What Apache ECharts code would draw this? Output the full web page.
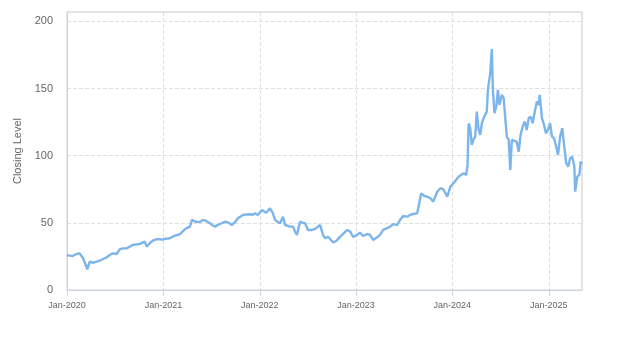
<!DOCTYPE html>
<html>
<head>
<meta charset="utf-8">
<title>Closing Level</title>
<script src="https://cdn.jsdelivr.net/npm/echarts@6/dist/echarts.min.js"></script>
<style>
  html, body { margin: 0; padding: 0; background: #ffffff; }
  #chart { width: 623px; height: 350px; }
</style>
</head>
<body>
<div id="chart"></div>
<script>
// Trading dates and closing levels
const dates = [
  '2020-01-01','2020-01-11','2020-01-22','2020-02-06','2020-02-18','2020-03-02','2020-03-12','2020-03-18',
  '2020-03-27','2020-04-07','2020-04-22','2020-05-04','2020-05-15','2020-05-31','2020-06-11','2020-06-22',
  '2020-07-07','2020-07-19','2020-07-30','2020-08-14','2020-08-26','2020-09-06','2020-09-21','2020-10-03',
  '2020-10-14','2020-10-22','2020-10-29','2020-11-10','2020-11-21','2020-12-06','2020-12-18','2020-12-29',
  '2021-01-10','2021-01-25','2021-02-13','2021-03-04','2021-03-23','2021-04-03','2021-04-11','2021-04-19',
  '2021-04-30','2021-05-07','2021-05-19','2021-05-30','2021-06-11','2021-06-26','2021-07-07','2021-07-15',
  '2021-07-26','2021-08-10','2021-08-22','2021-09-02','2021-09-17','2021-09-29','2021-10-10','2021-10-29',
  '2021-11-13','2021-11-25','2021-12-06','2021-12-14','2021-12-25',
  '2022-01-09','2022-01-25','2022-02-09','2022-02-20','2022-02-28','2022-03-11','2022-03-19','2022-03-30',
  '2022-04-07','2022-04-26','2022-05-07','2022-05-15','2022-05-22','2022-06-03','2022-06-14','2022-06-22',
  '2022-07-03','2022-07-18','2022-07-30','2022-08-18','2022-08-29','2022-09-06','2022-09-17','2022-10-06',
  '2022-10-18','2022-11-02','2022-11-17','2022-11-28','2022-12-10','2022-12-21',
  '2023-01-05','2023-01-16','2023-01-28','2023-02-12','2023-02-23','2023-03-07','2023-03-22','2023-04-02',
  '2023-04-14','2023-04-29','2023-05-10','2023-05-22','2023-06-06','2023-06-17','2023-06-29','2023-07-14',
  '2023-07-25','2023-08-06','2023-08-21','2023-08-29','2023-09-05','2023-09-17','2023-09-28','2023-10-10',
  '2023-10-21','2023-11-05','2023-11-17','2023-11-28','2023-12-13','2023-12-25',
  '2024-01-08','2024-01-25','2024-02-13','2024-02-23','2024-02-28','2024-03-03','2024-03-09','2024-03-15',
  '2024-03-21','2024-03-28','2024-04-03','2024-04-10','2024-04-16','2024-04-22','2024-04-29','2024-05-05',
  '2024-05-11','2024-05-15','2024-05-21','2024-05-24','2024-05-30','2024-06-03','2024-06-09','2024-06-16',
  '2024-06-22','2024-06-28','2024-07-07','2024-07-14','2024-07-20','2024-07-26','2024-08-02','2024-08-08',
  '2024-08-14','2024-08-20','2024-09-01','2024-09-09','2024-09-16','2024-09-24','2024-10-02','2024-10-09',
  '2024-10-17','2024-10-25','2024-11-01','2024-11-09','2024-11-17','2024-11-24','2024-11-28','2024-12-06',
  '2024-12-14','2024-12-21','2024-12-29',
  '2025-01-06','2025-01-13','2025-01-21','2025-01-29','2025-02-05','2025-02-13','2025-02-21','2025-02-28',
  '2025-03-08','2025-03-16','2025-03-23','2025-03-31','2025-04-08','2025-04-11','2025-04-19','2025-04-27',
  '2025-05-02','2025-05-07'
];
const closes = [
  26.0,25.6,25.3,26.8,27.3,23.6,18.6,15.4,
  21.1,20.3,21.1,21.8,22.9,24.4,26.0,27.3,
  26.8,30.3,31.0,31.0,32.3,33.5,34.0,34.3,
  35.3,36.0,32.3,34.8,36.7,37.8,37.8,37.5,
  38.2,38.5,40.5,41.5,45.2,46.5,47.2,52.2,
  51.0,49.7,50.5,52.2,51.5,49.7,48.0,47.2,
  48.5,49.7,50.8,50.4,48.4,50.5,53.4,55.9,
  56.2,56.4,56.0,57.1,55.9,
  59.6,57.5,60.8,57.0,52.2,50.5,49.7,54.6,
  48.4,47.2,47.2,43.5,41.0,51.0,50.0,49.7,
  44.7,44.7,45.5,48.4,41.0,38.5,39.7,35.5,
  36.5,39.7,42.5,44.7,43.5,39.5,
  41.0,42.7,40.2,41.7,41.0,37.3,39.2,41.0,
  44.7,46.0,47.2,49.0,48.4,52.2,55.1,54.6,
  55.9,56.6,57.1,64.6,72.0,70.0,69.5,68.3,
  65.8,73.2,75.8,75.0,69.5,77.0,
  80.0,84.4,87.0,85.7,93.0,124.0,120.7,108.0,
  112.0,114.0,132.9,119.0,115.5,124.0,128.0,129.0,
  133.0,149.0,149.0,161.7,179.4,149.0,131.7,136.6,
  149.0,137.9,145.3,142.8,128.0,114.2,111.8,89.4,
  111.8,111.8,110.5,103.0,115.5,121.7,125.5,119.2,
  128.0,129.0,124.2,132.9,140.3,137.9,145.3,128.0,
  123.0,116.7,119.2,
  124.2,114.2,113.0,106.8,100.6,114.2,120.5,108.0,
  94.4,91.9,98.1,99.3,91.9,73.2,84.4,85.7,
  95.6,94.0
];
const yTicks = [0, 50, 100, 150, 200];

const chart = echarts.init(document.getElementById('chart'), null, { renderer: 'canvas' });

const DAY_MS = 24 * 3600 * 1000;

chart.setOption({
  animation: false,
  backgroundColor: '#ffffff',
  textStyle: { fontFamily: 'Liberation Sans, Arial, sans-serif' },
  grid: {
    left: 67, right: 41, top: 12, bottom: 60,
    show: true, borderColor: '#cccccc', borderWidth: 1
  },
  xAxis: {
    type: 'time',
    min: '2020-01-01',
    max: 'dataMax',
    minInterval: 365 * DAY_MS,
    maxInterval: 366 * DAY_MS,
    axisLine: { show: true, lineStyle: { color: '#ccd6eb', width: 1 } },
    axisTick: { show: true, length: 6, lineStyle: { color: '#ccd6eb' } },
    axisLabel: {
      formatter: '{MMM}-{yyyy}',
      color: '#666666', fontSize: 9, margin: 11,
      showMinLabel: true
    },
    splitLine: { show: true, lineStyle: { color: '#e0e0e0', type: 'dashed', width: 1 } }
  },
  yAxis: {
    type: 'value',
    min: yTicks[0],
    max: 207,
    interval: 50,
    name: 'Closing Level',
    nameLocation: 'middle',
    nameGap: 33,
    nameTextStyle: { color: '#666666', fontSize: 11 },
    axisLine: { show: true, lineStyle: { color: '#ccd6eb', width: 1 } },
    axisTick: { show: false },
    axisLabel: { color: '#666666', fontSize: 11, margin: 14, showMaxLabel: false },
    splitLine: { show: true, lineStyle: { color: '#e0e0e0', type: 'dashed', width: 1 } }
  },
  series: [{
    type: 'line',
    data: dates.map((d, i) => [d, closes[i]]),
    showSymbol: false,
    symbol: 'none',
    lineStyle: { color: '#7cb5ec', width: 2.4 },
    itemStyle: { color: '#7cb5ec' }
  }]
});
</script>
</body>
</html>
